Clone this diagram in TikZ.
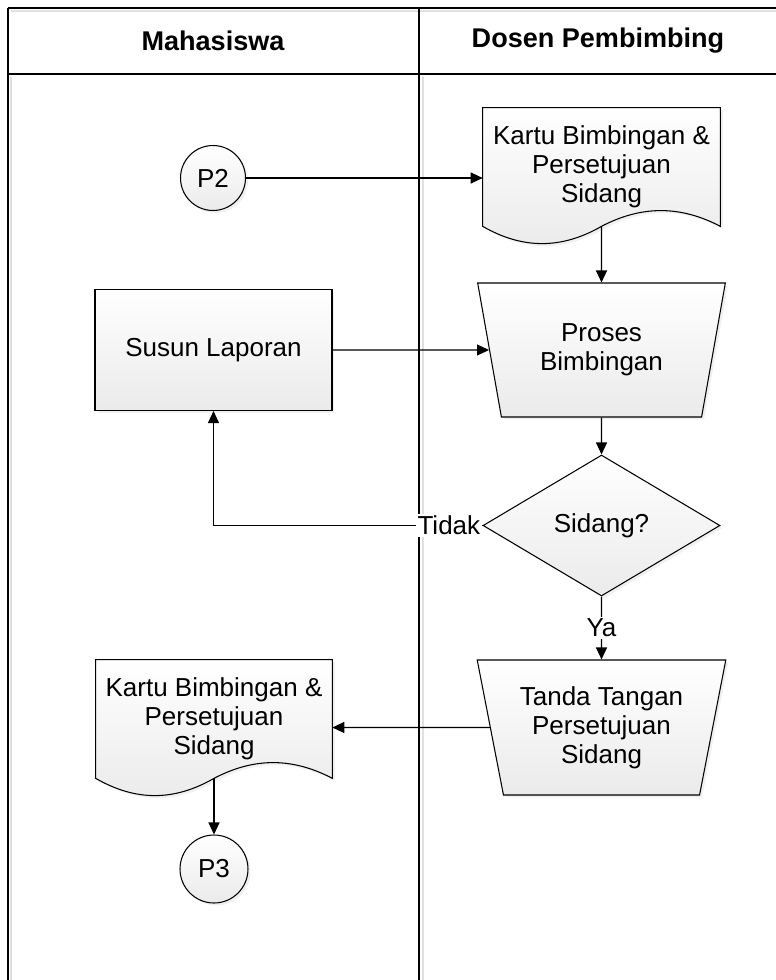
\documentclass[tikz,border=0pt]{standalone}
\usepackage{fontspec}
\setmainfont{Liberation Sans}
\usetikzlibrary{shapes.geometric,arrows.meta,shadows,calc}

\tikzset{
  boxfill/.style={draw, line width=0.6pt, top color=white, bottom color=black!8,
    drop shadow={shadow xshift=0.05cm, shadow yshift=-0.05cm, opacity=0.12}},
  arr/.style={-{Triangle[length=2.4mm,width=2.2mm]}, line width=0.65pt},
  lane/.style={line width=0.8pt},
  lbl/.style={font=\fontsize{14.8}{16.5}\selectfont, inner sep=1pt}
}

\begin{document}
\begin{tikzpicture}[x=0.02cm, y=-0.02cm,
    every node/.style={font=\fontsize{14.8}{16.5}\selectfont, align=center}]
    \useasboundingbox (0,0) rectangle (776,980);

    % swimlanes
    \draw[black!12, line width=1.4pt] (11,77) -- (11,980);
    \draw[black!12, line width=1.4pt] (423,77) -- (423,980);
    \draw[black!12, line width=1.4pt] (11,11) -- (776,11);
    \draw[lane] (8,8) -- (776,8);
    \draw[lane] (8,74) -- (776,74);
    \draw[lane] (8,8) -- (8,980);
    \draw[lane] (419,8) -- (419,980);
    \node[font=\fontsize{15.4}{17}\selectfont\bfseries] (mhs) at (213,41) {Mahasiswa};
    \node[font=\fontsize{15.4}{17}\selectfont\bfseries] (dsn) at (598,41) {Dosen Pembimbing};

    % nodes
    \node[boxfill, circle, minimum size=1.3cm, inner sep=0pt] (p2) at (213,178) {P2};
    \node[minimum width=4.74cm, minimum height=2.36cm, inner sep=0pt] (doc1) at (601.5,167) {};
    \draw[boxfill] (doc1.north west) -- (doc1.north east) -- (doc1.south east)
        .. controls +(-40,-21) and +(40,-21) .. (doc1.south)
        .. controls +(-40,23) and +(40,23) .. (doc1.south west) -- cycle;
    \node (doc1txt) at (doc1) {Kartu Bimbingan \&\\Persetujuan\\Sidang};

    \node[boxfill, trapezium, shape border rotate=180, trapezium left angle=76,
        trapezium right angle=76, trapezium stretches=true,
        minimum width=4.98cm, minimum height=2.68cm] (proses) at (601.5,350) {Proses\\Bimbingan};
    \node[boxfill, rectangle, minimum width=4.74cm, minimum height=2.42cm] (susun) at (213.5,350) {Susun Laporan};

    \node[boxfill, diamond, aspect=1.68, minimum width=4.74cm, minimum height=2.82cm,
        inner sep=0pt] (dec) at (601.5,525.5) {Sidang?};

    \node[boxfill, trapezium, shape border rotate=180, trapezium left angle=76,
        trapezium right angle=76, trapezium stretches=true,
        minimum width=4.98cm, minimum height=2.70cm] (tanda) at (601.5,727.5) {Tanda Tangan\\Persetujuan\\Sidang};

    \node[minimum width=4.72cm, minimum height=2.36cm, inner sep=0pt] (doc2) at (214,719) {};
    \draw[boxfill] (doc2.north west) -- (doc2.north east) -- (doc2.south east)
        .. controls +(-40,-21) and +(40,-21) .. (doc2.south)
        .. controls +(-40,23) and +(40,23) .. (doc2.south west) -- cycle;
    \node (doc2txt) at (doc2) {Kartu Bimbingan \&\\Persetujuan\\Sidang};

    \node[boxfill, circle, minimum size=1.36cm, inner sep=0pt] (p3) at (214,869) {P3};

    % connectors
    \draw[arr] (p2) -- (p2 -| doc1.west);
    \draw[arr] (doc1.south) -- (proses);
    \draw[arr] (susun) -- (proses);
    \draw[arr] (proses) -- (dec);
    \draw[arr] (dec.west) node[lbl, anchor=east, fill=white] {Tidak}
        -- (dec.west -| susun) -- (susun);
    \draw[arr] (dec.south) -- node[lbl, fill=white] {Ya} (tanda);
    \draw[arr] (tanda) -- (tanda -| doc2.east);
    \draw[arr] (doc2.south) -- (p3);
\end{tikzpicture}
\end{document}
